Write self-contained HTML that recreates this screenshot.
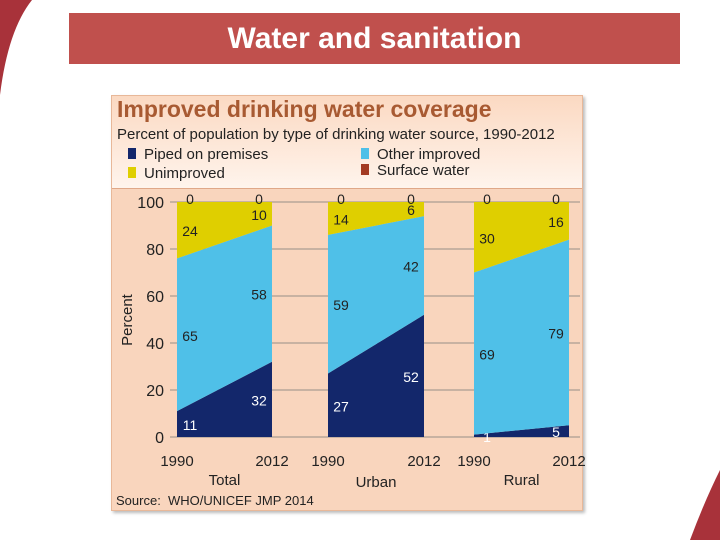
<!DOCTYPE html>
<html><head><meta charset="utf-8"><style>
body{margin:0;width:720px;height:540px;overflow:hidden;background:#fff;font-family:"Liberation Sans",sans-serif;position:relative}
.t{position:absolute}
</style></head><body>
<svg width="720" height="540" style="position:absolute;left:0;top:0">
<path d="M0,0 L32,0 Q8,30 0,95 Z" fill="#a8323a"/>
<path d="M720,470 Q705,500 690,540 L720,540 Z" fill="#a8323a"/>
</svg>
<div class="t" style="left:69px;top:13px;width:611px;height:51px;background:#c0504d;color:#fff;font-size:30px;font-weight:bold;text-align:center;line-height:51px">Water and sanitation</div>
<div class="t" style="left:111px;top:95px;width:470px;height:414px;background:#f9d5bd;border:1px solid #e8b899;box-shadow:2px 2px 3px #bbb"></div>
<div class="t" style="left:112px;top:96px;width:470px;height:92px;background:linear-gradient(#fbd9c2,#fff4ec);border-bottom:1px solid #e0a888"></div>
<div class="t" style="left:117px;top:96px;font-size:23px;font-weight:bold;color:#a85a32">Improved drinking water coverage</div>
<div class="t" style="left:117px;top:126px;font-size:15px;color:#222">Percent of population by type of drinking water source, 1990-2012</div>
<div class="t" style="left:128px;top:146px;font-size:15px;color:#222"><span style="display:inline-block;width:8px;height:11px;background:#13276b;margin-right:8px"></span>Piped on premises</div>
<div class="t" style="left:128px;top:165px;font-size:15px;color:#222"><span style="display:inline-block;width:8px;height:11px;background:#dfcf00;margin-right:8px"></span>Unimproved</div>
<div class="t" style="left:361px;top:146px;font-size:15px;color:#222"><span style="display:inline-block;width:8px;height:11px;background:#4fc0e8;margin-right:8px"></span>Other improved</div>
<div class="t" style="left:361px;top:162px;font-size:15px;color:#222"><span style="display:inline-block;width:8px;height:11px;background:#a33a22;margin-right:8px"></span>Surface water</div>
<svg id="ch" width="720" height="540" style="position:absolute;left:0;top:0" font-family="Liberation Sans, sans-serif"></svg>
<div class="t" style="left:116px;top:493px;font-size:13px;color:#222">Source:&nbsp; WHO/UNICEF JMP 2014</div>
<script>
const groups=["Total","Urban","Rural"];
const piped1990=[11,27,1], piped2012=[32,52,5];
const other1990=[65,59,69], other2012=[58,42,79];
const unimp1990=[24,14,30], unimp2012=[10,6,16];
const surf1990=[0,0,0], surf2012=[0,0,0];
const yTicks=[0,20,40,60,80,100];
const NS="http://www.w3.org/2000/svg";
const svg=document.getElementById('ch');
const Y0=437,Y1=202;
const y=v=>Y0-(Y0-Y1)*v/100;
const gx=[[177,272],[328,424],[474,569]];
function el(t,a,txt){const e=document.createElementNS(NS,t);for(const k in a)e.setAttribute(k,a[k]);if(txt!==undefined)e.textContent=txt;svg.appendChild(e);return e;}
yTicks.forEach(v=>{
 const l=el('line',{x1:170,x2:580,y1:y(v),y2:y(v),stroke:'#777','stroke-width':0.8});
 
 
 const t=el('text',{x:164,y:y(v)+6,'text-anchor':'end','font-size':16,fill:'#222'},v);
 
 
});
const ya=el('text',{x:132,y:320,'text-anchor':'middle','font-size':15,fill:'#222',transform:'rotate(-90 132 320)'},'Percent');


const series=[["piped",piped1990,piped2012,'#13276b','#fff'],["other",other1990,other2012,'#4fc0e8','#222'],["unimproved",unimp1990,unimp2012,'#dfcf00','#222'],["surface",surf1990,surf2012,'#a33a22','#222']];
groups.forEach((g,i)=>{
 const [xa,xb]=gx[i];let ca=0,cb=0;
 series.forEach(([nm,a,b,col,tc])=>{
  const na=ca+a[i],nb=cb+b[i];
  const p=el('polygon',{points:`${xa},${y(ca)} ${xb},${y(cb)} ${xb},${y(nb)} ${xa},${y(na)}`,fill:col});
  
  
  const isS=nm==='surface';
  const ta=el('text',{x:xa+13,y:isS?y(100)+2:y((ca+na)/2)+6,'text-anchor':'middle','font-size':14,fill:tc},a[i]);
  
  
  const tb=el('text',{x:xb-13,y:isS?y(100)+2:y((cb+nb)/2)+6,'text-anchor':'middle','font-size':14,fill:tc},b[i]);
  
  
  ca=na;cb=nb;
 });
 const t1=el('text',{x:xa,y:466,'text-anchor':'middle','font-size':15,fill:'#222'},'1990');
 
 
 const t2=el('text',{x:xb,y:466,'text-anchor':'middle','font-size':15,fill:'#222'},'2012');
 
 
 const gl=el('text',{x:(xa+xb)/2,y:i==1?487:485,'text-anchor':'middle','font-size':15,fill:'#222'},g);
 
 
});
</script>
</body></html>
